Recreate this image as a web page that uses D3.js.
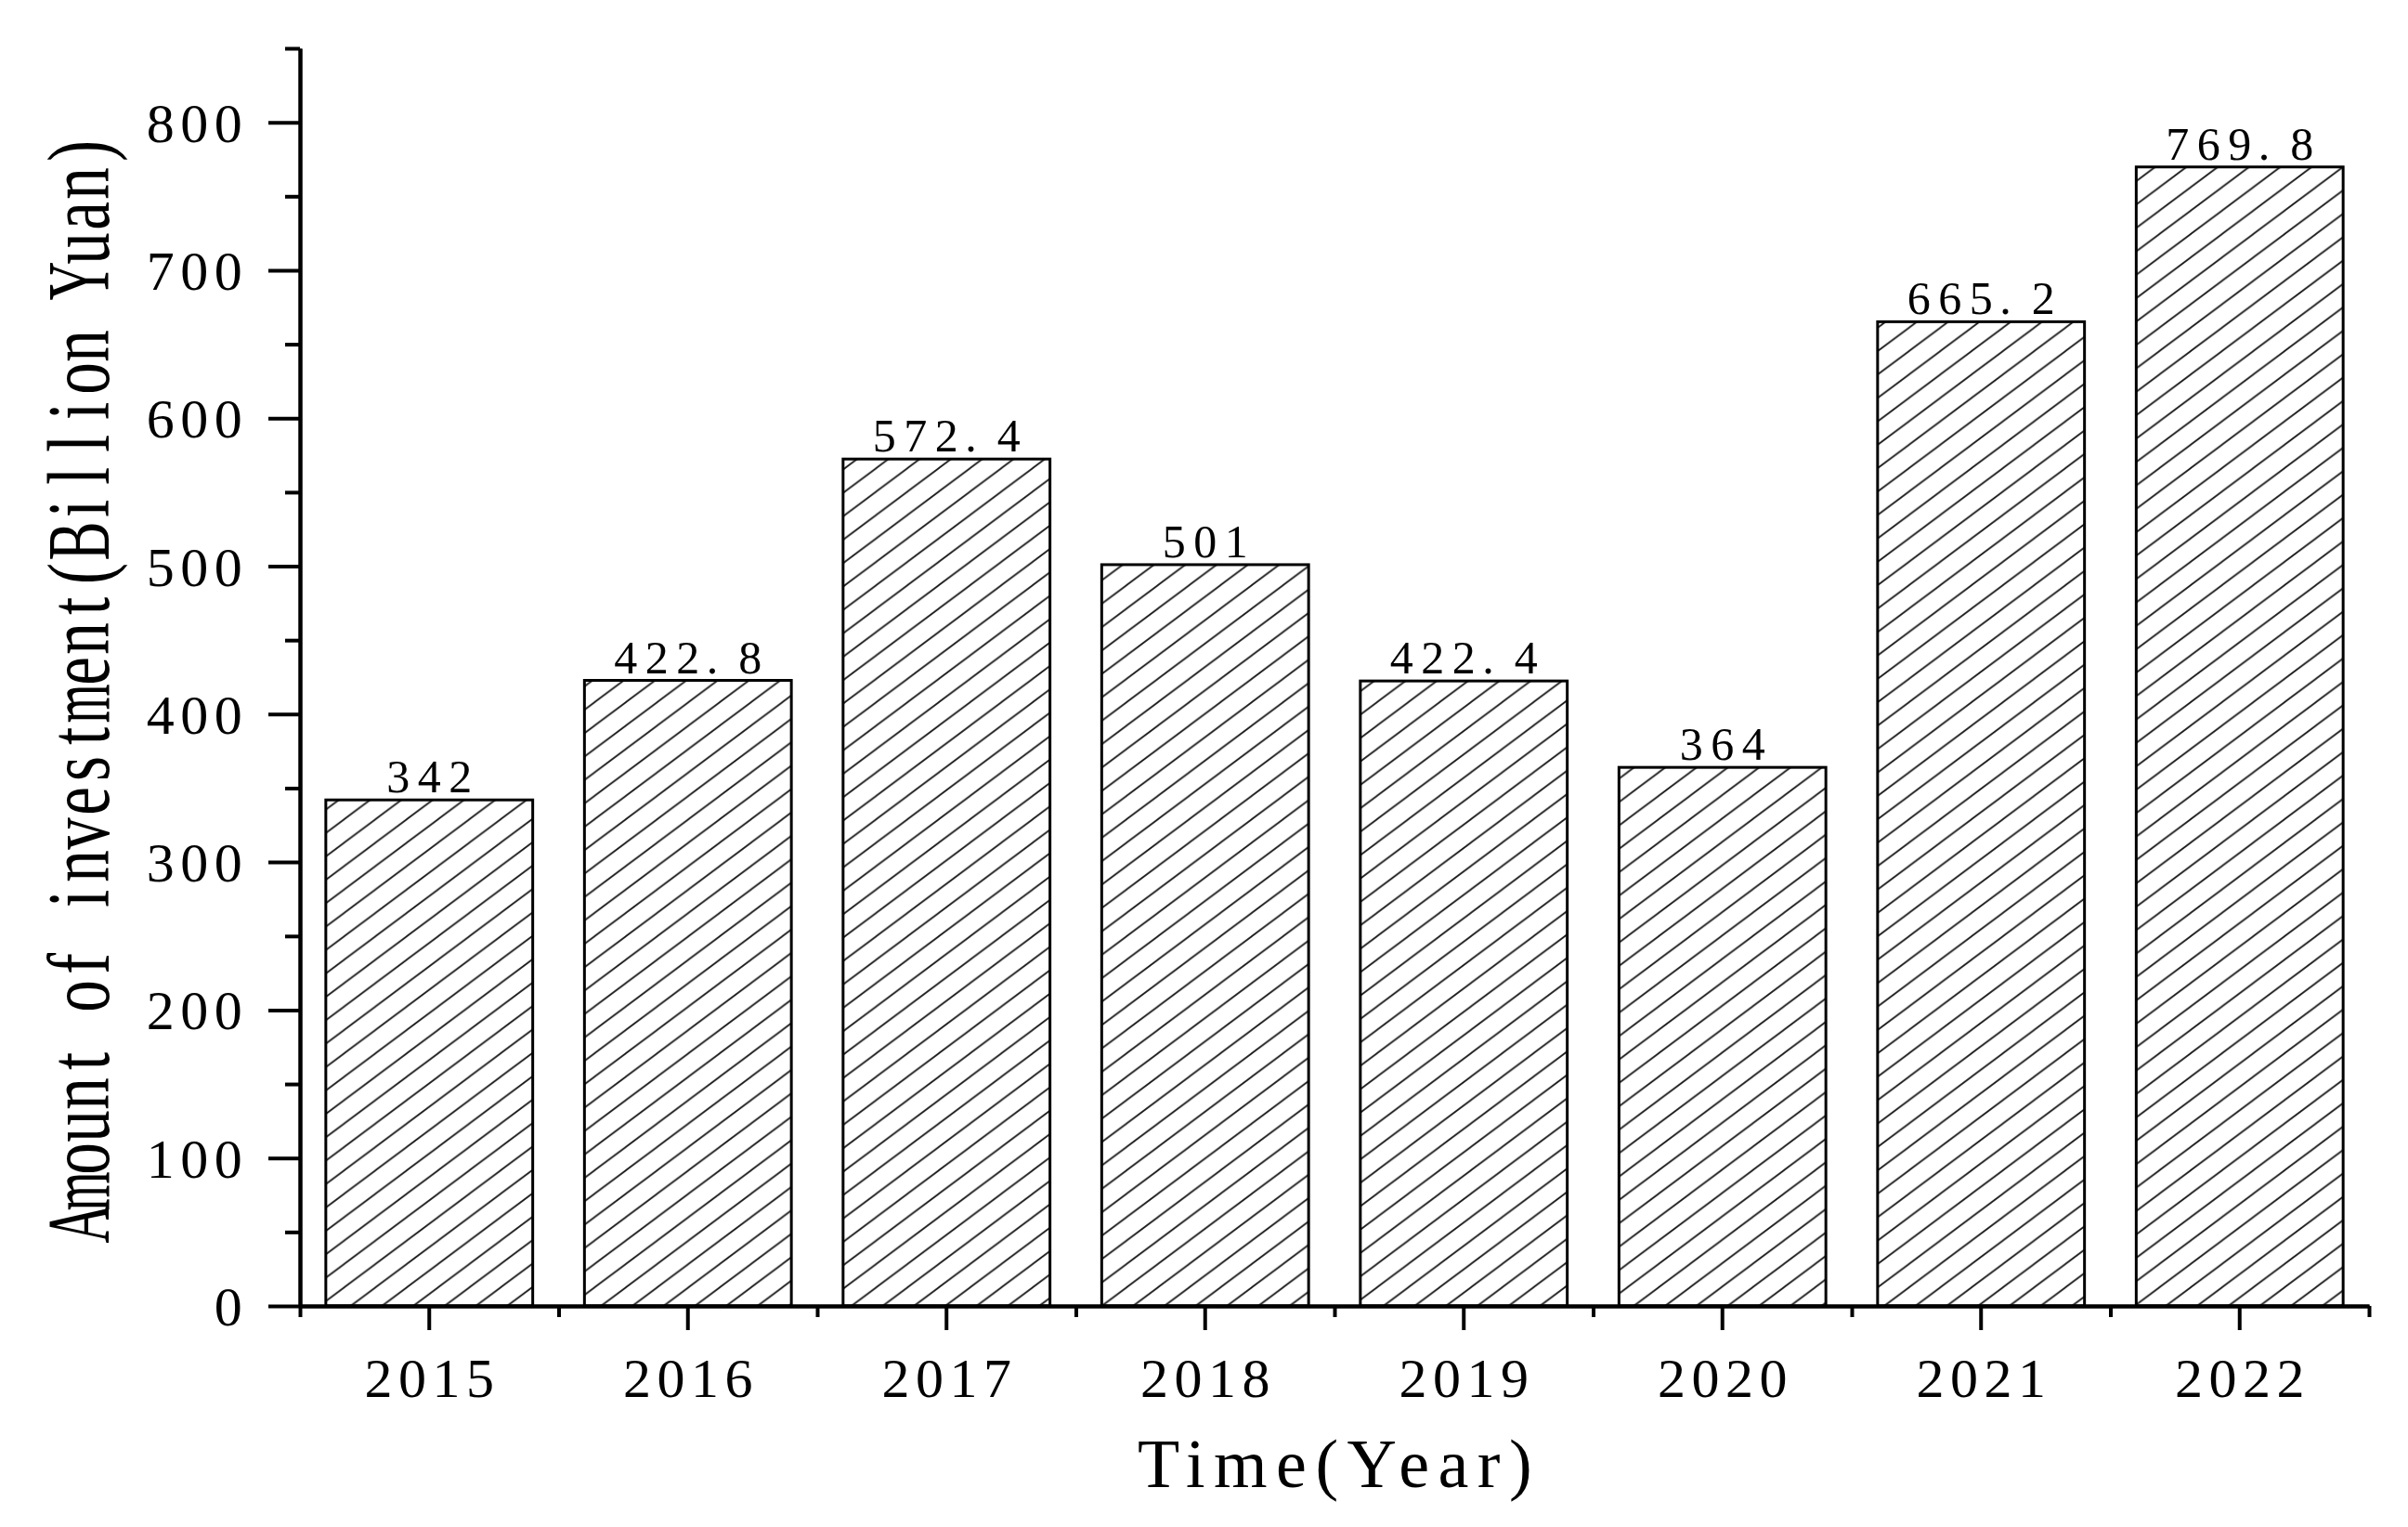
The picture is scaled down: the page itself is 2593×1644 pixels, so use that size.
<!DOCTYPE html>
<html>
<head>
<meta charset="utf-8">
<script src="https://cdn.jsdelivr.net/npm/d3@7"></script>
<style>
  body { margin: 0; background: #fff; }
  text { white-space: pre; }
</style>
</head>
<body>
<script>
//////////////////////
// GLOBAL VARIABLES //
const w = 2593;
const h = 1644;
const FONT = "'Liberation Serif', 'Times New Roman', serif";

// data
const years = ["2015", "2016", "2017", "2018", "2019", "2020", "2021", "2022"];
const investment = [342, 422.8, 572.4, 501, 422.4, 364, 665.2, 769.8];
const valueLabels = ["342", "422.8", "572.4", "501", "422.4", "364", "665.2", "769.8"];
const yTicks = [0, 100, 200, 300, 400, 500, 600, 700, 800];
const yMinorTicks = [50, 150, 250, 350, 450, 550, 650, 750, 850];
const xTitle = "Time(Year)";
const yTitle = "Amount of investment(Billion Yuan)";
//////////////////////

let svg = d3.select("body")
  .append("svg")
  .attr("width", w)
  .attr("height", h);

// hatch pattern for the bars
let defs = svg.append("defs");
let pat = defs.append("pattern")
  .attr("id", "hatch")
  .attr("patternUnits", "userSpaceOnUse")
  .attr("width", 33.7)
  .attr("height", 25.2);
pat.append("path")
  .attr("d", "M0,25.2 L33.7,0 M-3.37,2.52 L3.37,-2.52 M30.33,27.72 L37.07,22.68")
  .attr("stroke", "#1a1a1a")
  .attr("stroke-width", 1.8);

// scales
let xScale = d3.scaleBand()
  .domain(years)
  .range([323, 2551])
  .paddingInner(0.2)
  .paddingOuter(0.1);
let yScale = d3.scaleLinear()
  .domain([0, 850])
  .range([1406, 52]);

// text laid out in fixed cells, like the half-width glyphs of the original
function cellText(parent, str, o) {
  const sx = o.sx || 1;
  const n = str.length;
  const start = o.align === "end" ? -n * o.adv : -n * o.adv / 2;
  const t = parent.append("text")
    .attr("font-family", FONT)
    .attr("font-size", o.size)
    .attr("fill", "#000")
    .attr("transform", sx === 1 ? null : "scale(" + sx + ",1)");
  const chars = str.split("");
  chars.forEach(ch => t.append("tspan").attr("x", 0).attr("y", 0).text(ch));
  const widths = chars.map((ch, i) => t.node().getSubStringLength(i, 1));
  t.selectAll("tspan").each(function(d, i) {
    let cx = start + (i + 0.5) * o.adv;
    if (chars[i] === ".") cx -= o.adv * 0.22;
    let gw = widths[i] * sx;
    const sel = d3.select(this);
    if (gw > o.maxW) {
      gw = o.maxW;
      sel.attr("textLength", o.maxW / sx).attr("lengthAdjust", "spacingAndGlyphs");
    }
    sel.attr("x", (cx - gw / 2) / sx);
  });
  return t;
}

// bars
svg.selectAll("rect.bar")
  .data(years)
  .enter()
  .append("rect")
  .attr("class", "bar")
  .attr("x", d => xScale(d))
  .attr("width", xScale.bandwidth())
  .attr("y", (d, i) => yScale(investment[i]))
  .attr("height", (d, i) => yScale(0) - yScale(investment[i]))
  .attr("fill", "url(#hatch)")
  .attr("stroke", "#000")
  .attr("stroke-width", 3);

// value labels on top of the bars
years.forEach((yr, i) => {
  let g = svg.append("g")
    .attr("transform", "translate(" + (xScale(yr) + xScale.bandwidth() / 2) + "," + (yScale(investment[i]) - 8) + ")");
  cellText(g, valueLabels[i], { size: 50, adv: 33.5, maxW: 32 });
});

// y axis: minor then major ticks
svg.append("g")
  .attr("transform", "translate(323,0)")
  .call(d3.axisLeft(yScale).tickValues(yMinorTicks).tickSize(16).tickSizeOuter(0).tickFormat(""));
svg.append("g")
  .attr("transform", "translate(323,0)")
  .call(d3.axisLeft(yScale).tickValues(yTicks).tickSize(34).tickSizeOuter(0).tickFormat(""));

// x axis: band edges get short ticks, centres get long ones
let edges = years.map(d => xScale(d) - xScale.step() * xScale.paddingInner() / 2);
edges.push(xScale.range()[1]);
let xLin = d3.scaleLinear().domain([323, 2551]).range([323, 2551]);
svg.append("g")
  .attr("transform", "translate(0,1406)")
  .call(d3.axisBottom(xLin).tickValues(edges).tickSize(12).tickSizeOuter(0).tickFormat(""));
svg.append("g")
  .attr("transform", "translate(0,1406)")
  .call(d3.axisBottom(xScale).tickSize(26).tickSizeOuter(0).tickFormat(""));

svg.selectAll(".domain, .tick line")
  .attr("stroke", "#000")
  .attr("stroke-width", 4);

// y tick labels
yTicks.forEach(v => {
  let g = svg.append("g").attr("transform", "translate(264," + (yScale(v) + 21) + ")");
  cellText(g, String(v), { size: 60, adv: 36.5, maxW: 35, align: "end" });
});

// x tick labels
years.forEach(yr => {
  let g = svg.append("g").attr("transform", "translate(" + (xScale(yr) + xScale.bandwidth() / 2) + ",1504)");
  cellText(g, yr, { size: 60, adv: 36.5, maxW: 35 });
});

// axis titles
svg.append("text")
  .attr("x", 1442)
  .attr("y", 1601)
  .attr("text-anchor", "middle")
  .attr("font-family", FONT)
  .attr("font-size", 74)
  .attr("letter-spacing", 9.5)
  .attr("fill", "#000")
  .text(xTitle);

let gy = svg.append("g").attr("transform", "translate(117,740) rotate(-90)");
cellText(gy, yTitle, { size: 96, adv: 35, maxW: 42, sx: 0.72 });
</script>
</body>
</html>
